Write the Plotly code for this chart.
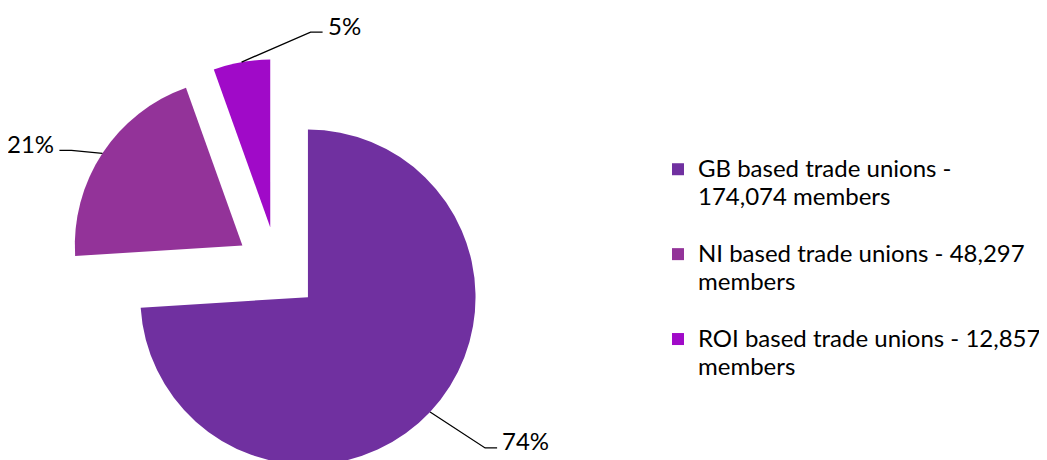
import math
import plotly.graph_objects as go

# ---- data ----
legend_lines = [
    ["GB based trade unions -", "174,074 members"],
    ["NI based trade unions - 48,297", "members"],
    ["ROI based trade unions - 12,857", "members"],
]
values = [174074, 48297, 12857]
colors = ["#7030A0", "#933399", "#A00AC8"]
pulls = [0.25, 0.25, 0.25]

# ---- layout constants ----
W, H = 1047, 470
ML, MR, MT, MB = 0, 0, 51, 0
DX = [0.0, 0.5146]
DY = [0.0, 1.0]
FONT = "Lato"
LEG_PX = 24

labels = [
    "<br>".join(f"<span style='font-size:{LEG_PX}px'>{t}</span>" for t in lines) + "<br> "
    for lines in legend_lines
]

pw = W - ML - MR
ph = H - MT - MB
R = min(pw * (DX[1] - DX[0]) / 2, ph * (DY[1] - DY[0]) / 2) / (1 + max(pulls))
CX = ML + pw * (DX[0] + DX[1]) / 2
CY = MT + ph * (1 - (DY[0] + DY[1]) / 2)


def to_paper(px, py):
    return (px - ML) / pw, 1 - (py - MT) / ph


fig = go.Figure(
    go.Pie(
        labels=labels,
        values=values,
        marker=dict(colors=colors, line=dict(width=0)),
        pull=pulls,
        sort=False,
        direction="clockwise",
        rotation=0,
        textinfo="none",
        hoverinfo="percent",
        domain=dict(x=DX, y=DY),
    )
)

# leader lines + percentage labels, positioned from each slice's mid-angle
leader = [(55, 36, 1), (-31, -3, -1), (69, -30, 1)]  # elbow offset (px) and horizontal direction
total = sum(values)
cum = 0.0
shapes, annotations = [], []
for v, p, (ex, ey, hd) in zip(values, pulls, leader):
    frac = v / total
    mid = (cum + frac / 2) * 2 * math.pi
    cum += frac
    dx, dy = math.sin(mid), -math.cos(mid)
    ax, ay = CX + (1 + p) * R * dx, CY + (1 + p) * R * dy
    bx, by = ax + ex, ay + ey
    cx2, cy2 = bx + 12 * hd, by
    pa, pb, pc = to_paper(ax, ay), to_paper(bx, by), to_paper(cx2, cy2)
    shapes.append(dict(
        type="path", xref="paper", yref="paper",
        path=f"M {pa[0]},{pa[1]} L {pb[0]},{pb[1]} L {pc[0]},{pc[1]}",
        line=dict(color="black", width=1.3),
    ))
    lx, ly = to_paper(cx2 + 3 * hd, cy2 - 7)
    annotations.append(dict(
        x=lx, y=ly, xref="paper", yref="paper",
        text=f"{round(frac * 100)}%", showarrow=False,
        xanchor="left" if hd > 0 else "right", yanchor="middle",
        font=dict(family=FONT, size=24, color="black"),
    ))

fig.update_layout(
    width=W, height=H,
    margin=dict(l=ML, r=MR, t=MT, b=MB),
    paper_bgcolor="white", plot_bgcolor="white",
    shapes=shapes, annotations=annotations,
    showlegend=True,
    legend=dict(
        x=0.6208, y=0.785, xanchor="left", yanchor="top",
        valign="top",
        font=dict(family=FONT, size=21, color="black"),
        bgcolor="rgba(0,0,0,0)",
    ),
)

fig.write_html("out.html")
